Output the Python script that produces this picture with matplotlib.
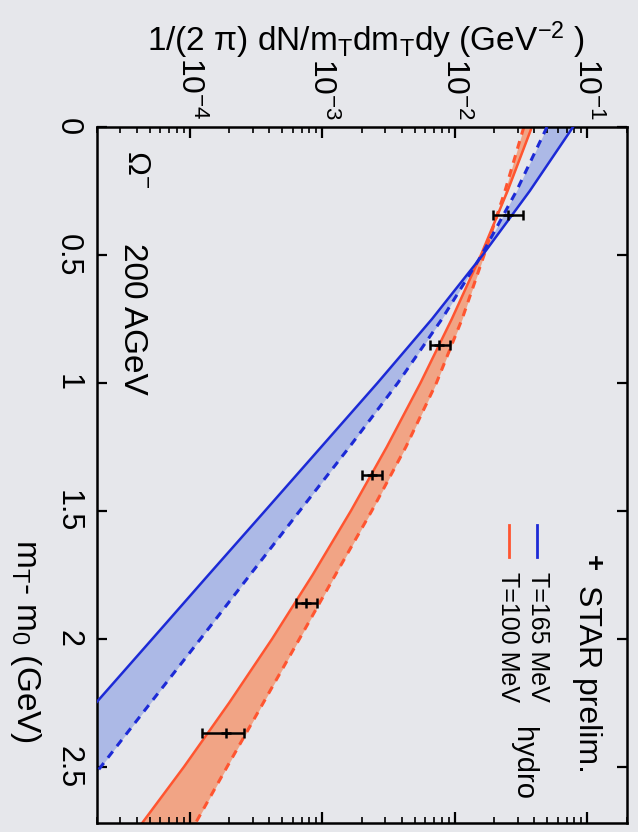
import numpy as np
import matplotlib
matplotlib.use('Agg')
import matplotlib.pyplot as plt

plt.rcParams['font.family'] = ['Liberation Sans', 'DejaVu Sans']
plt.rcParams['mathtext.fontset'] = 'custom'
plt.rcParams['mathtext.rm'] = 'Liberation Sans'
plt.rcParams['mathtext.it'] = 'Liberation Sans:italic'
plt.rcParams['mathtext.default'] = 'regular'

# ---- data ----
mt_grid = [0.0, 0.25, 0.5, 0.75, 1.0, 1.25, 1.5, 1.75, 2.0, 2.25, 2.5, 2.75]
blue_solid = [0.0783, 0.0369, 0.0163, 6.76e-3, 2.62e-3, 9.86e-4, 3.71e-4,
              1.39e-4, 5.24e-5, 1.97e-5, 7.40e-6, 2.78e-6]
blue_dashed = [0.0498, 0.0293, 0.0160, 8.03e-3, 3.73e-3, 1.61e-3, 6.78e-4,
               2.86e-4, 1.21e-4, 5.08e-5, 2.14e-5, 9.04e-6]
red_solid = [0.0383, 0.0251, 0.0158, 9.53e-3, 5.53e-3, 3.08e-3, 1.65e-3,
             8.49e-4, 4.20e-4, 1.99e-4, 9.08e-5, 3.97e-5]
red_dashed = [0.0333, 0.0240, 0.0167, 0.0114, 7.29e-3, 4.29e-3, 2.37e-3,
              1.26e-3, 6.75e-4, 3.60e-4, 1.92e-4, 1.03e-4]

star_mt = [0.344, 0.852, 1.359, 1.86, 2.367]
star_val = [0.0252, 0.00769, 0.00239, 7.57e-4, 1.87e-4]
star_lo = [0.0194, 0.0065, 0.00201, 6.31e-4, 1.24e-4]
star_hi = [0.0327, 0.0092, 0.00284, 9.08e-4, 2.56e-4]

yield_ticks = [1e-4, 1e-3, 1e-2, 1e-1]
mt_ticks = [0, 0.5, 1, 1.5, 2, 2.5]
mt_tick_labels = ['0', '0.5', '1', '1.5', '2', '2.5']

legend_labels = ['T=165 MeV', 'T=100 MeV']

# ---- style ----
BG = '#e6e7eb'
BLUE = '#1c2ad6'
BLUE_FILL = '#a2b1e6'
RED = '#ff5530'
RED_FILL = '#f39d7a'

W, H = 638, 832
fig = plt.figure(figsize=(W / 100, H / 100), dpi=100, facecolor=BG)


def fx(px):
    return px / W


def fy(py):
    return 1 - py / H


ax = fig.add_axes([fx(97), fy(823), (627 - 97) / W, (823 - 127) / H])
ax.set_facecolor(BG)
ax.set_xscale('log')
ax.set_xlim(2e-5, 0.2)
ax.set_ylim(2.72, 0)

mt = np.array(mt_grid)
ax.fill_betweenx(mt, red_solid, red_dashed, color=RED_FILL, alpha=0.9, lw=0, zorder=1)
ax.fill_betweenx(mt, blue_solid, blue_dashed, color=BLUE_FILL, alpha=0.85, lw=0, zorder=1)
ax.plot(red_solid, mt, color=RED, lw=1.8, zorder=2)
ax.plot(red_dashed, mt, color=RED, lw=2.2, dashes=(2.6, 2.2), zorder=2)
ax.plot(blue_solid, mt, color=BLUE, lw=1.8, zorder=3)
ax.plot(blue_dashed, mt, color=BLUE, lw=2.2, dashes=(2.6, 2.2), zorder=3)

sv = np.array(star_val)
xerr = [sv - np.array(star_lo), np.array(star_hi) - sv]
ax.errorbar(star_val, star_mt, xerr=xerr, fmt='+', color='black', ms=7, mew=1.8,
            elinewidth=1.8, capsize=3.5, capthick=1.8, zorder=5)

for s in ax.spines.values():
    s.set_linewidth(1.8)

ax.set_xticks(yield_ticks)
ax.set_yticks(mt_ticks)
ax.set_yticklabels(mt_tick_labels)
ax.tick_params(axis='x', which='both', direction='in', top=True, bottom=True,
               labeltop=True, labelbottom=False, labelrotation=-90, labelsize=23, pad=5)
ax.tick_params(axis='x', which='major', length=8, width=1.6)
ax.tick_params(axis='x', which='minor', length=4, width=1.2)
ax.tick_params(axis='y', which='both', direction='in', left=True, right=True,
               labelrotation=-90, labelsize=22, length=7, width=1.6, pad=10)
for lab in ax.get_yticklabels():
    lab.set_va('center')

# axis titles
fig.text(fx(366), fy(40), r'1/(2 $\pi$) dN/m$_{T}$dm$_{T}$dy (GeV$^{-2}$ )',
         ha='center', va='center', fontsize=24)
fig.text(fx(25), fy(641), r'm$_{T}$- m$_{0}$ (GeV)', rotation=-90,
         ha='center', va='center', fontsize=24)

# annotations
fig.text(fx(136), fy(150), r'$\Omega^{-}$', rotation=-90, ha='center', va='top', fontsize=23)
fig.text(fx(132), fy(243), '200 AGeV', rotation=-90, ha='center', va='top', fontsize=24)

# legend
fig.text(fx(592), fy(563), '+', rotation=-90, ha='center', va='center', fontsize=20,
         fontweight='bold')
fig.text(fx(587), fy(585), 'STAR prelim.', rotation=-90, ha='center', va='top', fontsize=23)
fig.add_artist(plt.Line2D([fx(537), fx(537)], [fy(525), fy(557)], color=BLUE, lw=2))
fig.add_artist(plt.Line2D([fx(509), fx(509)], [fy(525), fy(557)], color=RED, lw=2))
fig.text(fx(538), fy(572), legend_labels[0], rotation=-90, ha='center', va='top', fontsize=18)
fig.text(fx(508), fy(572), legend_labels[1], rotation=-90, ha='center', va='top', fontsize=18)
fig.text(fx(523), fy(727), 'hydro', rotation=-90, ha='center', va='top', fontsize=21)

fig.savefig('out.png', dpi=100, facecolor=BG)
